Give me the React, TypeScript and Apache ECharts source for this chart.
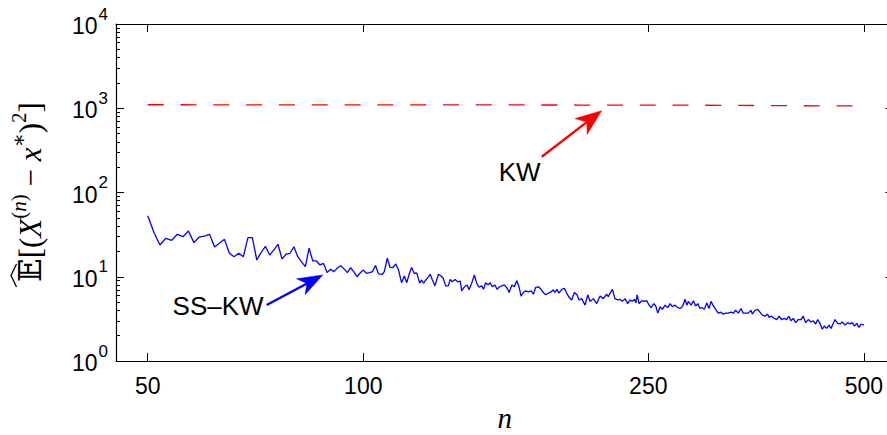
import React, { useEffect, useRef } from "react";
import * as echarts from "echarts";

// ---- data ----
const ssN = [
  50, 51, 52, 53, 54, 55, 56, 57, 58, 59, 60, 61, 62, 63, 64, 65, 66, 67, 68, 69,
  70, 71, 72, 73, 74, 75, 76, 77, 78, 79, 80, 81, 82, 83, 84, 85, 86, 87, 88, 89,
  90, 91, 92, 93, 94, 95, 96, 97, 98, 99, 100, 101, 102, 103, 104, 105,
  106.3, 107.0, 108.0, 109.0, 109.9, 111.0, 111.9, 113.1, 114.1, 115.0, 116.0, 116.8, 117.8, 118.8, 119.9,
  120.6, 121.4, 122.2, 123.2, 124.0, 124.8, 125.9, 127.3, 128.4, 129.3, 130.3, 131.4, 132.3, 133.1, 134.3,
  135.5, 136.6, 137.2, 138.4, 139.6, 140.5, 141.7, 142.9, 143.9, 145.0, 146.3, 147.2, 148.2, 149.4, 150.4,
  151.4, 152.7, 153.7, 154.7, 156.1, 157.4, 158.6, 159.8, 161.2, 162.5, 163.8, 165.0, 166.1, 167.3, 168.6,
  170.0, 171.5, 172.8, 174.1, 175.6, 177.1, 178.4, 179.8, 181.3, 182.9, 184.2, 185.2, 186.3, 187.6, 189.3,
  190.9, 192.3, 193.8, 195.4, 197.1, 198.8, 200.1, 201.8, 204.0, 205.8, 207.3, 209.5, 211.8, 214.1, 216.3,
  218.7, 219.8, 222.7,
  224.6, 226.6, 228.3, 230.0, 232.0, 234.0, 235.8, 237.5, 239.1, 240.2, 241.2, 242.7, 244.9, 246.9, 248.8,
  250.6, 252.3, 254.5, 256.1, 257.8, 259.7, 261.6, 263.9, 266.2, 268.2, 270.2, 272.5, 274.9, 276.9, 279.0,
  281.4, 283.0, 284.4, 286.9, 289.0, 291.2, 293.1, 295.3, 297.5, 299.4, 301.7, 303.9, 305.9, 308.2, 310.5,
  313.1, 315.8, 318.2, 320.7, 323.3, 326.2, 328.6, 331.1, 333.9, 336.8, 339.3, 341.9, 344.8, 347.8, 349.3,
  352.3, 355.4, 358.0, 360.7, 363.8, 367.0, 368.5, 371.7, 374.9, 377.8, 380.6, 383.9, 387.1, 390.1, 393.0,
  395.5, 398.5, 401.6, 404.9, 408.5, 411.5, 414.7, 418.2, 421.8, 424.9, 428.2, 431.0, 434.2, 437.4, 440.3,
  443.7, 447.0, 449.9, 453.3, 455.7, 459.7, 463.1, 466.6, 470.6, 474.7, 478.3, 481.8, 484.9, 488.7, 492.3,
  495.5, 500,
];
const ssVals = [
  53.0, 33.7, 23.8, 28.6, 27.1, 31.9, 29.9, 34.9, 25.4, 29.6, 30.4, 31.9, 22.5, 25.2, 27.8, 19.0, 17.3, 19.0, 17.3, 29.1,
  29.1, 15.8, 19.4, 23.0, 18.1, 20.8, 24.3, 16.2, 18.5, 19.0, 22.7, 17.3, 15.0, 13.2, 21.8, 15.4, 15.4, 13.8, 14.4, 11.2,
  12.3, 11.5, 12.7, 13.5, 12.4, 11.2, 12.8, 11.4, 10.0, 11.1, 12.0, 11.0, 11.2, 11.5, 13.6, 10.8,
  10.7, 11.5, 16.6, 12.9, 12.8, 14.2, 12.3, 8.5, 10.2, 8.5, 11.0, 12.9, 11.0, 11.0, 8.4,
  9.1, 8.4, 9.1, 9.9, 10.7, 9.3, 7.8, 10.7, 10.2, 9.6, 7.8, 7.8, 9.3, 8.7, 9.3,
  8.7, 8.9, 6.8, 7.6, 8.0, 7.0, 8.4, 10.5, 8.5, 7.5, 7.8, 7.1, 8.5, 8.0, 8.5,
  7.6, 8.0, 7.1, 7.5, 7.8, 8.0, 7.4, 6.5, 8.0, 7.6, 9.0, 7.6, 5.9, 6.5, 6.8,
  6.6, 6.8, 6.2, 7.5, 7.6, 7.1, 6.5, 6.1, 6.4, 6.6, 7.0, 6.5, 7.1, 6.4, 7.1,
  7.3, 6.4, 5.7, 5.3, 6.5, 6.1, 5.3, 5.5, 4.6, 6.1, 5.1, 5.5, 4.8, 5.9, 5.5,
  6.2, 5.8, 7.1,
  5.5, 5.3, 5.4, 5.1, 5.5, 4.8, 5.3, 5.1, 5.4, 4.9, 6.1, 4.8, 5.2, 5.1, 5.2,
  4.6, 4.3, 4.8, 4.5, 3.7, 4.4, 4.1, 4.6, 4.3, 4.8, 4.4, 4.6, 4.3, 4.2, 4.4,
  5.4, 4.6, 5.1, 4.6, 5.2, 4.5, 4.8, 4.2, 4.3, 4.1, 4.9, 4.2, 5.1, 4.5, 4.1,
  3.7, 3.8, 3.6, 3.7, 3.7, 3.8, 3.7, 4.0, 3.7, 4.2, 3.7, 3.7, 3.7, 4.0, 3.6,
  4.0, 4.1, 3.8, 3.5, 3.4, 3.6, 3.3, 3.4, 3.2, 3.1, 3.4, 3.1, 3.2, 3.1, 3.4,
  3.0, 3.2, 2.85, 3.1, 3.1, 3.4, 2.85, 3.1, 2.9, 3.0, 2.75, 3.1, 2.8, 2.38, 2.6,
  2.44, 2.67, 2.44, 2.8, 3.1, 2.8, 2.75, 2.9, 2.67, 2.85, 2.75, 2.85, 2.6, 2.8, 2.5,
  2.75, 2.67,
];
const kwN = [50, 100, 150, 200, 250, 300, 350, 400, 450, 500];
const kwVals = [1100, 1098, 1095, 1092, 1090, 1085, 1078, 1072, 1067, 1063];

const xTicks = [50, 100, 250, 500];
const yMajor = [1, 10, 100, 1000, 10000];
const yMinor = [
  2, 3, 4, 5, 6, 7, 8, 9,
  20, 30, 40, 50, 60, 70, 80, 90,
  200, 300, 400, 500, 600, 700, 800, 900,
  2000, 3000, 4000, 5000, 6000, 7000, 8000, 9000,
];

// annotation anchors (data coordinates)
const kwText = "KW";
const ssText = "SS\u2013KW";
const kwLabelAt = [165.3, 172.8];
const kwArrowFrom = [177.5, 266];
const kwArrowTo = [215.2, 935];
const ssLabelAt = [62.7, 4.5];
const ssArrowFrom = [73.3, 4.62];
const ssArrowTo = [87.8, 10.5];

const SANS = "'Liberation Sans', Arial, Helvetica, sans-serif";
const SERIF = "'Liberation Serif', 'DejaVu Serif', serif";

export default function App() {
  const ref = useRef<HTMLDivElement>(null);

  useEffect(() => {
    const chart = echarts.init(ref.current!, null, { renderer: "svg" });

    const X_MIN = 45.15;
    const X_MAX = 550;
    const line = { show: true, lineStyle: { color: "#000", width: 1.2 } };

    const xBase = (pos: "bottom" | "top", labels: boolean) => ({
      type: "log",
      logBase: 10,
      min: X_MIN,
      max: X_MAX,
      position: pos,
      axisLine: { ...line, onZero: false },
      axisTick: { show: true, inside: true, length: 8, customValues: xTicks, lineStyle: { color: "#000", width: 1 } },
      axisLabel: labels
        ? { show: true, customValues: xTicks, margin: 13, fontSize: 23, fontFamily: SANS, color: "#000" }
        : { show: false },
      minorTick: { show: false },
      splitLine: { show: false },
      minorSplitLine: { show: false },
    });

    const yBase = (pos: "left" | "right", labels: boolean, minor: boolean) => ({
      type: "log",
      logBase: 10,
      min: 1,
      max: 10000,
      position: pos,
      axisLine: minor ? { show: false } : { ...line, onZero: false },
      axisTick: {
        show: true,
        inside: true,
        length: minor ? 4 : 8,
        customValues: minor ? yMinor : yMajor,
        lineStyle: { color: "#000", width: 1 },
      },
      axisLabel: labels
        ? {
            show: true,
            customValues: yMajor,
            margin: 8,
            formatter: (v: number) => `{b|10}{s|${Math.round(Math.log10(v))}}`,
            rich: {
              b: { fontSize: 23, fontFamily: SANS, color: "#000", padding: [4, 0, 0, 0] },
              s: { fontSize: 17, fontFamily: SANS, color: "#000", padding: [0, 0, 20, 1] },
            },
          }
        : { show: false },
      minorTick: { show: false },
      splitLine: { show: false },
      minorSplitLine: { show: false },
    });

    const option: any = {
      animation: false,
      backgroundColor: "#fff",
      grid: { left: 116, top: 24, width: 777.5, height: 337, containLabel: false, outerBoundsMode: "none" },
      xAxis: [
        {
          ...xBase("bottom", true),
          name: "n",
          nameLocation: "middle",
          nameGap: 47,
          nameTextStyle: { fontSize: 29, fontStyle: "italic", fontFamily: SERIF, color: "#000", lineHeight: 20 },
        },
        xBase("top", false),
      ],
      yAxis: [yBase("left", true, false), yBase("right", false, false), yBase("left", false, true), yBase("right", false, true)],
      series: [
        {
          type: "line",
          name: "SS-KW",
          xAxisIndex: 0,
          yAxisIndex: 0,
          data: ssN.map((n, i) => [n, ssVals[i]]),
          showSymbol: false,
          symbol: "none",
          lineStyle: { color: "#0000ff", width: 1.3 },
        },
        {
          type: "line",
          name: "KW",
          xAxisIndex: 0,
          yAxisIndex: 0,
          data: kwN.map((n, i) => [n, kwVals[i]]),
          showSymbol: false,
          symbol: "none",
          lineStyle: { color: "#ff0000", width: 1.3, type: [16, 16.8] },
        },
      ],
    };
    chart.setOption(option);

    const P = (d: number[]) => chart.convertToPixel({ seriesIndex: 0 }, d) as number[];

    const arrow = (from: number[], to: number[], color: string, L: number, W: number) => {
      const s = P(from);
      const t = P(to);
      const dx = t[0] - s[0];
      const dy = t[1] - s[1];
      const len = Math.hypot(dx, dy);
      const ux = dx / len;
      const uy = dy / len;
      const px = -uy;
      const py = ux;
      const bx = t[0] - L * ux;
      const by = t[1] - L * uy;
      const nx = t[0] - 0.72 * L * ux;
      const ny = t[1] - 0.72 * L * uy;
      return [
        {
          type: "line",
          silent: true,
          shape: { x1: s[0], y1: s[1], x2: nx, y2: ny },
          style: { stroke: color, lineWidth: 2.4 },
        },
        {
          type: "polygon",
          silent: true,
          shape: { points: [t, [bx + W * px, by + W * py], [nx, ny], [bx - W * px, by - W * py]] },
          style: { fill: color, stroke: color, lineWidth: 0.5 },
        },
      ];
    };

    const kwPos = P(kwLabelAt);
    const ssPos = P(ssLabelAt);

    const yLabelRich = {
      e: { fontSize: 31, fontFamily: "'DejaVu Serif', 'DejaVu Sans', serif", fill: "#000" },
      m: { fontSize: 31, fontFamily: SERIF, fill: "#000" },
      i: { fontSize: 31, fontFamily: SERIF, fontStyle: "italic", fill: "#000" },
      s: { fontSize: 21, fontFamily: SERIF, fill: "#000", padding: [0, 0, 22, 0] },
      si: { fontSize: 21, fontFamily: SERIF, fontStyle: "italic", fill: "#000", padding: [0, 0, 22, 0] },
    };

    chart.setOption({
      graphic: [
        ...arrow(kwArrowFrom, kwArrowTo, "#ff0000", 26, 10),
        ...arrow(ssArrowFrom, ssArrowTo, "#0000ff", 25, 9),
        {
          type: "text",
          silent: true,
          x: kwPos[0],
          y: kwPos[1],
          style: {
            text: kwText,
            fontSize: 26,
            fontFamily: SANS,
            fill: "#000",
            align: "center",
            verticalAlign: "middle",
            textAlign: "center",
            textVerticalAlign: "middle",
          },
        },
        {
          type: "text",
          silent: true,
          x: ssPos[0],
          y: ssPos[1],
          style: {
            text: ssText,
            fontSize: 26,
            fontFamily: SANS,
            fill: "#000",
            align: "center",
            verticalAlign: "middle",
            textAlign: "center",
            textVerticalAlign: "middle",
          },
        },
        {
          type: "text",
          silent: true,
          x: 30,
          y: 192,
          rotation: Math.PI / 2,
          style: {
            text: "{e|\u{1D53C}}{m|[(}{i|X}{s|(}{si|n}{s|)}{m| \u2212 }{i|x}{s|\u2217}{m|)}{s|2}{m|]}",
            rich: yLabelRich,
            align: "center",
            verticalAlign: "middle",
            textAlign: "center",
            textVerticalAlign: "middle",
          },
        },
        {
          // wide hat accent over the expectation symbol
          type: "polyline",
          silent: true,
          shape: { points: [[16.5, 264], [11, 275.5], [16.5, 287]] },
          style: { stroke: "#000", lineWidth: 1.3, fill: "none" },
        },
      ],
    });

    return () => chart.dispose();
  }, []);

  return (
    <div
      ref={ref}
      style={{ position: "fixed", left: 0, top: 0, width: 887, height: 435, background: "#fff" }}
    />
  );
}
